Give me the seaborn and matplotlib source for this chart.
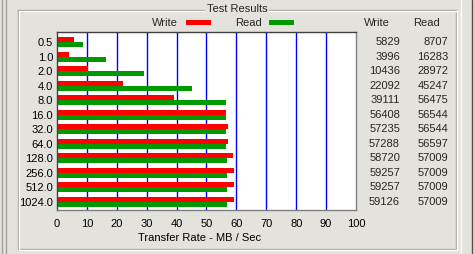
import matplotlib
matplotlib.use("Agg")
import matplotlib.pyplot as plt
import matplotlib.transforms as mtransforms
from matplotlib.patches import Rectangle
from matplotlib.lines import Line2D
import seaborn as sns
import pandas as pd

sizes = ["0.5", "1.0", "2.0", "4.0", "8.0", "16.0", "32.0", "64.0", "128.0", "256.0", "512.0", "1024.0"]
write_kb = [5829, 3996, 10436, 22092, 39111, 56408, 57235, 57288, 58720, 59257, 59257, 59126]
read_kb = [8707, 16283, 28972, 45247, 56475, 56544, 56544, 56597, 57009, 57009, 57009, 57009]
x_ticks = [0, 10, 20, 30, 40, 50, 60, 70, 80, 90, 100]

BG = "#E4E2DD"
sns.set_theme(style="white")
plt.rcParams["font.family"] = ["Liberation Sans", "DejaVu Sans"]
plt.rcParams["font.size"] = 8

W, H = 474, 254
fig = plt.figure(figsize=(W / 100, H / 100), dpi=100, facecolor=BG)

def fx(px):
    return px / W

def fy(py):
    return 1 - py / H

left, right, top, bottom = 57, 356, 32, 210
ax = fig.add_axes([fx(left), fy(bottom), (right - left) / W, (bottom - top) / H])
ax.set_facecolor("white")

df = pd.DataFrame({
    "size": sizes * 2,
    "rate": [v / 1000 for v in write_kb] + [v / 1000 for v in read_kb],
    "type": ["Write"] * len(sizes) + ["Read"] * len(sizes),
})

sns.barplot(data=df, x="rate", y="size", hue="type", hue_order=["Write", "Read"],
            order=sizes, orient="h", width=0.69, palette={"Write": "#FF0000", "Read": "#009900"},
            saturation=1, legend=False, ax=ax, linewidth=0, errorbar=None, zorder=3)

ax.set_xlim(0, 100)
ax.set_ylim(len(sizes) - 1 + 0.55, -0.69)
ax.set_xticks(x_ticks)
ax.set_xticklabels([str(t) for t in x_ticks])
for t in x_ticks[1:-1]:
    ax.axvline(t, color="#0000FF", lw=1.0, zorder=1)
ax.grid(False)
ax.tick_params(axis="x", length=0, pad=6.5, labelsize=8, colors="black")
ax.tick_params(axis="y", length=0, pad=2.8, labelsize=8, colors="black")
ax.set_ylabel("")
ax.set_xlabel("Transfer Rate - MB / Sec", fontsize=8, color="black")
ax.xaxis.label.set_va("center")
ax.xaxis.set_label_coords((200 - left) / (right - left), -(238 - bottom) / (bottom - top))
for side, sp in ax.spines.items():
    sp.set_visible(True)
    sp.set_linewidth(1.0)
    sp.set_color("#404040" if side in ("left", "top") else "#808080")
    sp.set_zorder(5)

# Group box (etched)
gx0, gy0, gx1, gy1 = 17.5, 9.5, 455.5, 248.5
for off, col in ((0, "#A0A0A0"), (1, "#FFFFFF")):
    xs = [fx(gx0 + off), fx(gx1 + off), fx(gx1 + off), fx(gx0 + off), fx(gx0 + off)]
    ys = [fy(gy0 + off), fy(gy0 + off), fy(gy1 + off), fy(gy1 + off), fy(gy0 + off)]
    fig.add_artist(Line2D(xs, ys, color=col, lw=1.0, transform=fig.transFigure))

fig.text(fx(237), fy(9), "Test Results", ha="center", va="center", fontsize=8,
         bbox=dict(boxstyle="square,pad=0.15", fc=BG, ec="none"))

# outer window frame lines
for xp, col in ((1.5, "#A0A0A0"), (5.5, "#A0A0A0"), (460.5, "#FFFFFF"), (471.5, "#505050")):
    fig.add_artist(Line2D([fx(xp), fx(xp)], [0, 1], color=col, lw=1.0, transform=fig.transFigure))

# legend
fig.text(fx(178), fy(22.5), "Write", ha="right", va="center", fontsize=8)
fig.add_artist(Rectangle((fx(186), fy(25)), fx(25), 5 / H, fc="#FF0000", ec="none", transform=fig.transFigure))
fig.text(fx(262), fy(22.5), "Read", ha="right", va="center", fontsize=8)
fig.add_artist(Rectangle((fx(269), fy(25)), fx(25), 5 / H, fc="#009900", ec="none", transform=fig.transFigure))

# table
fig.text(fx(377), fy(23), "Write", ha="center", va="center", fontsize=8)
fig.text(fx(426), fy(23), "Read", ha="center", va="center", fontsize=8)
trans_w = mtransforms.blended_transform_factory(fig.transFigure, ax.transData)
for i, (w, r) in enumerate(zip(write_kb, read_kb)):
    ax.text(fx(400), i, str(w), ha="right", va="center", fontsize=8, transform=trans_w, clip_on=False)
    ax.text(fx(448), i, str(r), ha="right", va="center", fontsize=8, transform=trans_w, clip_on=False)

fig.savefig("out.png", dpi=100, facecolor=BG)
